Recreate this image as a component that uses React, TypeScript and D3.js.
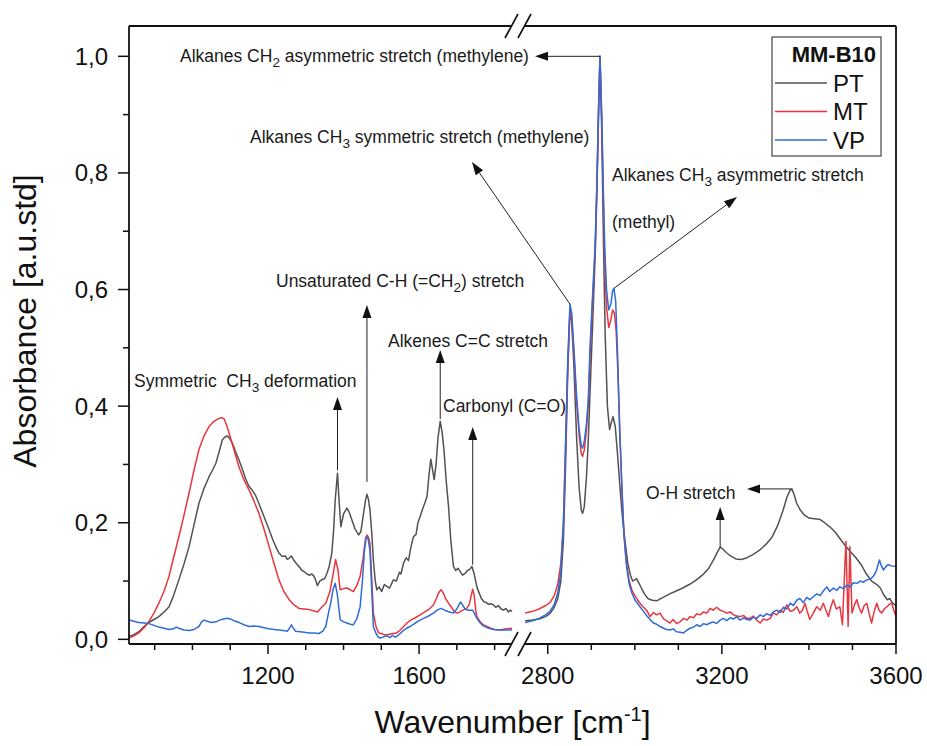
import React from "react";
import * as d3 from "d3";

type Pt = [number, number];

// ---- Spectra: [wavenumber (cm-1), absorbance] ----
const PT_LOW: Pt[] = [
  [832, 0.005], [845, 0.008], [858, 0.013], [872, 0.022], [885, 0.029], [898, 0.034], [911, 0.039],
  [925, 0.047], [938, 0.056], [950, 0.075], [964, 0.102], [978, 0.13], [991, 0.159], [1004, 0.196],
  [1017, 0.233], [1030, 0.258], [1044, 0.279], [1053, 0.29], [1062, 0.302], [1070, 0.32], [1079, 0.342],
  [1086, 0.347], [1092, 0.349], [1099, 0.344], [1106, 0.336], [1114, 0.322], [1123, 0.308], [1132, 0.292],
  [1141, 0.275], [1150, 0.262], [1158, 0.256], [1167, 0.247], [1176, 0.233], [1185, 0.218], [1194, 0.203],
  [1203, 0.188], [1212, 0.172], [1220, 0.16], [1229, 0.148], [1238, 0.142], [1246, 0.143], [1251, 0.137],
  [1256, 0.139], [1262, 0.143], [1268, 0.136], [1275, 0.13], [1282, 0.125], [1290, 0.118], [1296, 0.116],
  [1303, 0.112], [1309, 0.11], [1316, 0.112], [1322, 0.108], [1327, 0.1], [1331, 0.092], [1337, 0.1],
  [1344, 0.103], [1350, 0.104], [1356, 0.113], [1362, 0.125], [1369, 0.148], [1374, 0.19], [1378, 0.239],
  [1384, 0.285], [1388, 0.24], [1393, 0.193], [1400, 0.215], [1409, 0.225], [1415, 0.218], [1422, 0.205],
  [1430, 0.19], [1440, 0.179], [1446, 0.185], [1453, 0.216], [1458, 0.238], [1462, 0.249], [1466, 0.24],
  [1470, 0.222], [1475, 0.18], [1479, 0.136], [1484, 0.1], [1488, 0.085], [1494, 0.09], [1501, 0.082],
  [1508, 0.094], [1515, 0.091], [1522, 0.088], [1532, 0.102], [1540, 0.1], [1548, 0.115], [1552, 0.112],
  [1559, 0.131], [1566, 0.14], [1572, 0.135], [1578, 0.157], [1585, 0.176], [1592, 0.18], [1597, 0.2],
  [1603, 0.211], [1610, 0.225], [1616, 0.235], [1621, 0.245], [1626, 0.28], [1631, 0.309], [1636, 0.29],
  [1640, 0.274], [1645, 0.3], [1650, 0.345], [1656, 0.374], [1661, 0.355], [1666, 0.325], [1672, 0.27],
  [1678, 0.228], [1684, 0.17], [1691, 0.125], [1697, 0.118], [1703, 0.122], [1709, 0.116], [1715, 0.11],
  [1722, 0.113], [1728, 0.118], [1734, 0.12], [1740, 0.125], [1746, 0.112], [1753, 0.09], [1760, 0.078],
  [1765, 0.07], [1771, 0.065], [1778, 0.063], [1784, 0.06], [1790, 0.061], [1797, 0.059], [1803, 0.055],
  [1810, 0.058], [1817, 0.052], [1824, 0.05], [1830, 0.053], [1836, 0.047], [1842, 0.05], [1846, 0.048],
];

const PT_HIGH: Pt[] = [
  [2748, 0.032], [2765, 0.033], [2780, 0.035], [2795, 0.039], [2805, 0.044], [2815, 0.055], [2823, 0.07],
  [2830, 0.1], [2836, 0.17], [2841, 0.3], [2846, 0.46], [2851, 0.563], [2855, 0.545], [2860, 0.47],
  [2866, 0.35], [2872, 0.26], [2877, 0.222], [2880, 0.216], [2884, 0.228], [2889, 0.28], [2893, 0.34],
  [2897, 0.42], [2901, 0.5], [2905, 0.58], [2909, 0.66], [2913, 0.77], [2917, 0.91], [2920, 1.0],
  [2924, 0.87], [2928, 0.68], [2932, 0.52], [2937, 0.4], [2942, 0.36], [2946, 0.372], [2950, 0.382],
  [2955, 0.365], [2960, 0.32], [2966, 0.26], [2972, 0.205], [2978, 0.165], [2984, 0.13], [2990, 0.11],
  [2995, 0.1], [3000, 0.102], [3004, 0.104], [3009, 0.097], [3015, 0.088], [3022, 0.078], [3030, 0.07],
  [3040, 0.067], [3050, 0.066], [3065, 0.072], [3080, 0.078], [3095, 0.083], [3110, 0.088], [3125, 0.094],
  [3140, 0.101], [3155, 0.11], [3170, 0.122], [3182, 0.138], [3190, 0.15], [3196, 0.158], [3202, 0.155],
  [3210, 0.149], [3220, 0.143], [3232, 0.138], [3245, 0.137], [3258, 0.14], [3270, 0.145], [3285, 0.152],
  [3300, 0.162], [3315, 0.175], [3328, 0.195], [3340, 0.22], [3350, 0.245], [3357, 0.256], [3361, 0.258],
  [3366, 0.248], [3372, 0.233], [3380, 0.222], [3390, 0.213], [3400, 0.208], [3412, 0.207], [3424, 0.206],
  [3436, 0.2], [3448, 0.193], [3460, 0.184], [3472, 0.172], [3484, 0.16], [3496, 0.15], [3508, 0.14],
  [3520, 0.128], [3532, 0.112], [3544, 0.1], [3556, 0.094], [3564, 0.088], [3572, 0.076], [3580, 0.068],
  [3586, 0.07], [3592, 0.062], [3600, 0.058],
];

const MT_LOW: Pt[] = [
  [832, 0.002], [845, 0.006], [858, 0.011], [872, 0.02], [885, 0.031], [898, 0.045], [911, 0.062],
  [925, 0.083], [938, 0.108], [950, 0.14], [964, 0.176], [978, 0.214], [991, 0.251], [1004, 0.29],
  [1017, 0.325], [1030, 0.348], [1044, 0.365], [1057, 0.374], [1070, 0.379], [1078, 0.38], [1084, 0.378],
  [1090, 0.368], [1097, 0.354], [1110, 0.325], [1123, 0.296], [1136, 0.274], [1150, 0.256], [1163, 0.237],
  [1176, 0.216], [1190, 0.188], [1203, 0.159], [1216, 0.13], [1229, 0.102], [1242, 0.082], [1256, 0.068],
  [1269, 0.059], [1282, 0.053], [1295, 0.052], [1309, 0.051], [1320, 0.049], [1331, 0.047], [1342, 0.055],
  [1353, 0.062], [1364, 0.082], [1372, 0.11], [1379, 0.137], [1385, 0.12], [1391, 0.085], [1400, 0.087],
  [1409, 0.088], [1418, 0.085], [1426, 0.082], [1435, 0.092], [1444, 0.108], [1452, 0.14], [1458, 0.172],
  [1462, 0.179], [1466, 0.175], [1470, 0.165], [1475, 0.1], [1479, 0.045], [1486, 0.022], [1493, 0.011],
  [1500, 0.01], [1508, 0.008], [1515, 0.008], [1524, 0.009], [1532, 0.01], [1541, 0.011], [1550, 0.016],
  [1559, 0.022], [1568, 0.028], [1578, 0.033], [1590, 0.037], [1603, 0.042], [1615, 0.047], [1627, 0.052],
  [1638, 0.059], [1646, 0.07], [1652, 0.08], [1658, 0.085], [1664, 0.08], [1670, 0.07], [1678, 0.062],
  [1686, 0.055], [1693, 0.048], [1700, 0.045], [1708, 0.047], [1716, 0.05], [1726, 0.053], [1733, 0.06],
  [1738, 0.075], [1742, 0.086], [1746, 0.075], [1750, 0.05], [1753, 0.039], [1760, 0.032], [1766, 0.027],
  [1773, 0.024], [1780, 0.022], [1790, 0.019], [1800, 0.017], [1815, 0.016], [1830, 0.018], [1846, 0.019],
];

const MT_HIGH: Pt[] = [
  [2748, 0.045], [2765, 0.048], [2780, 0.052], [2795, 0.058], [2805, 0.063], [2815, 0.075], [2823, 0.095],
  [2830, 0.13], [2836, 0.2], [2841, 0.33], [2846, 0.47], [2851, 0.565], [2855, 0.55], [2860, 0.49],
  [2866, 0.41], [2872, 0.35], [2877, 0.318], [2880, 0.314], [2884, 0.325], [2889, 0.36], [2893, 0.4],
  [2897, 0.48], [2901, 0.55], [2905, 0.61], [2909, 0.67], [2913, 0.78], [2917, 0.92], [2920, 1.0],
  [2924, 0.89], [2928, 0.74], [2931, 0.64], [2935, 0.57], [2940, 0.535], [2945, 0.548], [2949, 0.565],
  [2953, 0.56], [2957, 0.53], [2961, 0.46], [2966, 0.35], [2970, 0.26], [2975, 0.18], [2981, 0.13],
  [2987, 0.1], [2993, 0.085], [3000, 0.075], [3006, 0.068], [3012, 0.062], [3020, 0.055], [3027, 0.05],
  [3035, 0.039], [3043, 0.046], [3050, 0.042], [3058, 0.045], [3066, 0.035], [3073, 0.032], [3081, 0.028],
  [3088, 0.034], [3096, 0.027], [3104, 0.03], [3112, 0.036], [3120, 0.033], [3127, 0.039], [3135, 0.037],
  [3142, 0.044], [3150, 0.042], [3158, 0.047], [3165, 0.045], [3173, 0.053], [3180, 0.05], [3188, 0.055],
  [3196, 0.05], [3204, 0.048], [3211, 0.045], [3219, 0.047], [3227, 0.042], [3234, 0.04], [3242, 0.039],
  [3250, 0.041], [3257, 0.036], [3265, 0.036], [3272, 0.04], [3280, 0.033], [3288, 0.028], [3295, 0.035],
  [3303, 0.033], [3311, 0.036], [3318, 0.045], [3326, 0.042], [3334, 0.05], [3341, 0.046], [3349, 0.059],
  [3357, 0.048], [3364, 0.05], [3372, 0.056], [3379, 0.045], [3385, 0.05], [3391, 0.062], [3396, 0.048],
  [3402, 0.034], [3410, 0.045], [3418, 0.056], [3426, 0.05], [3433, 0.062], [3439, 0.05], [3445, 0.039],
  [3450, 0.055], [3456, 0.068], [3463, 0.052], [3471, 0.056], [3477, 0.025], [3481, 0.1], [3485, 0.168],
  [3488, 0.08], [3490, 0.022], [3492, 0.09], [3494, 0.159], [3497, 0.09], [3499, 0.045], [3505, 0.06],
  [3510, 0.068], [3515, 0.055], [3521, 0.045], [3527, 0.058], [3533, 0.062], [3538, 0.045], [3544, 0.028],
  [3550, 0.048], [3556, 0.062], [3561, 0.05], [3567, 0.045], [3573, 0.052], [3579, 0.056], [3585, 0.06],
  [3590, 0.062], [3595, 0.05], [3600, 0.039],
];

const VP_LOW: Pt[] = [
  [832, 0.033], [845, 0.031], [858, 0.029], [872, 0.028], [885, 0.027], [898, 0.024], [911, 0.021],
  [925, 0.019], [938, 0.017], [950, 0.018], [957, 0.021], [964, 0.019], [978, 0.016], [991, 0.015],
  [1004, 0.017], [1012, 0.02], [1017, 0.022], [1024, 0.03], [1031, 0.033], [1040, 0.031], [1050, 0.029],
  [1062, 0.03], [1072, 0.033], [1082, 0.035], [1092, 0.036], [1100, 0.035], [1110, 0.032], [1123, 0.029],
  [1136, 0.025], [1150, 0.022], [1163, 0.023], [1176, 0.022], [1190, 0.02], [1203, 0.018], [1216, 0.017],
  [1229, 0.016], [1240, 0.015], [1251, 0.014], [1256, 0.018], [1262, 0.025], [1267, 0.019], [1273, 0.014],
  [1285, 0.013], [1296, 0.012], [1309, 0.011], [1322, 0.011], [1335, 0.01], [1345, 0.014], [1353, 0.022],
  [1360, 0.045], [1366, 0.062], [1372, 0.085], [1378, 0.096], [1384, 0.075], [1391, 0.034], [1400, 0.03],
  [1409, 0.028], [1418, 0.026], [1426, 0.025], [1435, 0.035], [1444, 0.056], [1450, 0.1], [1455, 0.15],
  [1460, 0.176], [1465, 0.172], [1470, 0.153], [1475, 0.08], [1479, 0.022], [1486, 0.01], [1492, 0.004],
  [1497, 0.002], [1505, 0.004], [1512, 0.006], [1518, 0.005], [1523, 0.003], [1530, 0.007], [1536, 0.004],
  [1541, 0.005], [1550, 0.01], [1558, 0.015], [1567, 0.019], [1576, 0.022], [1590, 0.028], [1600, 0.032],
  [1612, 0.036], [1625, 0.04], [1638, 0.045], [1648, 0.05], [1658, 0.053], [1668, 0.05], [1680, 0.047],
  [1691, 0.045], [1700, 0.052], [1706, 0.06], [1710, 0.064], [1716, 0.058], [1722, 0.052], [1730, 0.05],
  [1742, 0.05], [1750, 0.04], [1756, 0.033], [1762, 0.028], [1770, 0.023], [1780, 0.02], [1797, 0.017],
  [1815, 0.016], [1830, 0.016], [1846, 0.016],
];

const VP_HIGH: Pt[] = [
  [2748, 0.029], [2765, 0.032], [2780, 0.036], [2795, 0.042], [2805, 0.048], [2815, 0.06], [2823, 0.08],
  [2830, 0.115], [2836, 0.2], [2841, 0.34], [2846, 0.48], [2851, 0.575], [2855, 0.56], [2860, 0.5],
  [2866, 0.42], [2872, 0.36], [2877, 0.332], [2880, 0.328], [2884, 0.34], [2889, 0.37], [2893, 0.41],
  [2897, 0.5], [2901, 0.56], [2905, 0.62], [2909, 0.68], [2913, 0.79], [2917, 0.92], [2920, 1.0],
  [2924, 0.9], [2928, 0.76], [2931, 0.67], [2935, 0.6], [2940, 0.565], [2945, 0.575], [2949, 0.598],
  [2952, 0.602], [2956, 0.58], [2960, 0.5], [2965, 0.36], [2970, 0.27], [2975, 0.18], [2981, 0.125],
  [2987, 0.095], [2993, 0.08], [3000, 0.068], [3006, 0.062], [3012, 0.056], [3020, 0.048], [3028, 0.04],
  [3036, 0.033], [3043, 0.028], [3050, 0.026], [3058, 0.022], [3066, 0.019], [3073, 0.017], [3081, 0.016],
  [3088, 0.018], [3096, 0.013], [3104, 0.012], [3112, 0.011], [3120, 0.016], [3127, 0.019], [3135, 0.021],
  [3142, 0.025], [3150, 0.022], [3158, 0.027], [3165, 0.025], [3173, 0.028], [3180, 0.03], [3188, 0.027],
  [3196, 0.033], [3203, 0.036], [3211, 0.032], [3219, 0.037], [3227, 0.035], [3234, 0.039], [3242, 0.033],
  [3250, 0.037], [3257, 0.034], [3265, 0.033], [3272, 0.038], [3280, 0.036], [3288, 0.042], [3295, 0.039],
  [3303, 0.044], [3311, 0.041], [3318, 0.047], [3326, 0.05], [3334, 0.046], [3341, 0.055], [3349, 0.052],
  [3357, 0.062], [3364, 0.058], [3372, 0.067], [3379, 0.07], [3387, 0.063], [3395, 0.072], [3402, 0.068],
  [3410, 0.073], [3418, 0.078], [3426, 0.075], [3433, 0.083], [3441, 0.09], [3448, 0.082], [3456, 0.088],
  [3464, 0.084], [3471, 0.09], [3479, 0.087], [3487, 0.093], [3495, 0.09], [3502, 0.097], [3510, 0.096],
  [3518, 0.1], [3525, 0.098], [3533, 0.102], [3540, 0.103], [3548, 0.108], [3555, 0.118], [3562, 0.136],
  [3567, 0.125], [3571, 0.119], [3577, 0.125], [3582, 0.128], [3590, 0.126], [3600, 0.125],
];

const SERIES_NAMES = ["PT", "MT", "VP"];
const SERIES_COLORS = ["#525252", "#e8363e", "#2f6cd9"];
const SERIES_DATA: Pt[][][] = [
  [PT_LOW, PT_HIGH],
  [MT_LOW, MT_HIGH],
  [VP_LOW, VP_HIGH],
];
const LEGEND_TITLE = "MM-B10";

// ---- Axis ticks ----
const Y_MAJOR = [0, 0.2, 0.4, 0.6, 0.8, 1.0];
const Y_MINOR = [0.1, 0.3, 0.5, 0.7, 0.9];
const X_LOW_MAJOR = [1200, 1600];
const X_LOW_MINOR = [900, 1000, 1100, 1300, 1400, 1500, 1700, 1800];
const X_HIGH_MAJOR = [2800, 3200, 3600];
const X_HIGH_MINOR = [2900, 3000, 3100, 3300, 3400, 3500];
const LOW_DOMAIN: [number, number] = [832, 1850];
const HIGH_DOMAIN: [number, number] = [2750, 3600];
const Y_DOMAIN: [number, number] = [-0.008, 1.052];

// ---- Layout ----
const W = 927;
const H = 746;
const F = { left: 129, right: 896, top: 26, bottom: 644 };
const LOW_END = 513.5;
const HIGH_START = 526;
const BREAK_MARKS = [511.5, 524.5];
const FONT = "'Liberation Sans', Arial, Helvetica, sans-serif";
const NOTE_SIZE = 17.5;

const xLow = d3.scaleLinear().domain(LOW_DOMAIN).range([F.left, LOW_END]);
const xHigh = d3.scaleLinear().domain(HIGH_DOMAIN).range([HIGH_START, F.right]);
const y = d3.scaleLinear().domain(Y_DOMAIN).range([F.bottom, F.top]);
const xPos = (w: number) => (w < 2300 ? xLow(w) : xHigh(w));

const line = d3
  .line<Pt>()
  .x((d) => xPos(d[0]))
  .y((d) => y(d[1]));

const fmtY = (v: number) => d3.format(".1f")(v).replace(".", ",");

type Part = { t: string; sub?: boolean };
type Note = {
  lines: { parts: Part[]; x: number; y: number }[];
  arrows: { from: Pt; tip: [number | null, number | null] }[];
};

// Band annotations: arrows start at the spectral feature (data space) and end at a label.
const NOTES: Note[] = [
  {
    lines: [{ parts: [{ t: "Alkanes CH" }, { t: "2", sub: true }, { t: " asymmetric stretch (methylene)" }], x: 180, y: 62 }],
    arrows: [{ from: [2920, 1.0], tip: [535, null] }],
  },
  {
    lines: [{ parts: [{ t: "Alkanes CH" }, { t: "3", sub: true }, { t: " symmetric stretch (methylene)" }], x: 250, y: 143 }],
    arrows: [{ from: [2851, 0.575], tip: [472, 162] }],
  },
  {
    lines: [
      { parts: [{ t: "Alkanes CH" }, { t: "3", sub: true }, { t: " asymmetric stretch" }], x: 612, y: 181 },
      { parts: [{ t: "(methyl)" }], x: 612, y: 228 },
    ],
    arrows: [{ from: [2952, 0.602], tip: [737, 197] }],
  },
  {
    lines: [{ parts: [{ t: "Unsaturated C-H (=CH" }, { t: "2", sub: true }, { t: ") stretch" }], x: 276, y: 287 }],
    arrows: [{ from: [1462, 0.27], tip: [null, 305] }],
  },
  {
    lines: [{ parts: [{ t: "Symmetric  CH" }, { t: "3", sub: true }, { t: " deformation" }], x: 134, y: 387 }],
    arrows: [{ from: [1384, 0.29], tip: [null, 397] }],
  },
  {
    lines: [{ parts: [{ t: "Alkenes C=C stretch" }], x: 388, y: 347 }],
    arrows: [{ from: [1656, 0.378], tip: [null, 350] }],
  },
  {
    lines: [{ parts: [{ t: "Carbonyl (C=O)" }], x: 443, y: 412 }],
    arrows: [{ from: [1742, 0.128], tip: [null, 427] }],
  },
  {
    lines: [{ parts: [{ t: "O-H stretch" }], x: 646, y: 499 }],
    arrows: [
      { from: [3360, 0.258], tip: [747, null] },
      { from: [3196, 0.158], tip: [null, 507] },
    ],
  },
];

function Arrow({ x1, y1, x2, y2 }: { x1: number; y1: number; x2: number; y2: number }) {
  const len = 13;
  const half = 4.5;
  const a = Math.atan2(y2 - y1, x2 - x1);
  const bx = x2 - len * Math.cos(a);
  const by = y2 - len * Math.sin(a);
  const px = -Math.sin(a) * half;
  const py = Math.cos(a) * half;
  return (
    <g>
      <line x1={x1} y1={y1} x2={bx} y2={by} stroke="#222" strokeWidth={1} />
      <path d={`M${x2},${y2}L${bx + px},${by + py}L${bx - px},${by - py}Z`} fill="#111" />
    </g>
  );
}

function RichText({ parts, x, y: yy, size }: { parts: Part[]; x: number; y: number; size: number }) {
  let shifted = false;
  return (
    <text x={x} y={yy} fontSize={size} fill="#1a1a1a" style={{ whiteSpace: "pre" }}>
      {parts.map((p, i) => {
        let dy = 0;
        if (p.sub && !shifted) {
          dy = 5;
          shifted = true;
        } else if (!p.sub && shifted) {
          dy = -5;
          shifted = false;
        }
        return (
          <tspan key={i} dy={dy || undefined} fontSize={p.sub ? size * 0.78 : undefined}>
            {p.t}
          </tspan>
        );
      })}
    </text>
  );
}

function BreakMark({ cx, cy }: { cx: number; cy: number }) {
  return <line x1={cx - 6.5} y1={cy + 12} x2={cx + 6.5} y2={cy - 12} stroke="#111" strokeWidth={1.6} />;
}

export default function App() {
  const axisStroke = "#111";
  const aw = 1.8;
  return (
    <svg
      width={W}
      height={H}
      viewBox={`0 0 ${W} ${H}`}
      style={{ position: "absolute", left: 0, top: 0, background: "#fff", fontFamily: FONT }}
    >
      <rect x={0} y={0} width={W} height={H} fill="#fff" />

      {/* spectra */}
      <g fill="none" strokeWidth={1.5} strokeLinejoin="round">
        {SERIES_DATA.map((segs, si) =>
          segs.map((seg, k) => <path key={`${si}-${k}`} d={line(seg) || ""} stroke={SERIES_COLORS[si]} />)
        )}
      </g>

      {/* frame with axis break */}
      <g stroke={axisStroke} strokeWidth={aw} fill="none">
        <line x1={F.left} y1={F.top} x2={F.left} y2={F.bottom} />
        <line x1={F.right} y1={F.top} x2={F.right} y2={F.bottom} />
        <line x1={F.left} y1={F.bottom} x2={BREAK_MARKS[0]} y2={F.bottom} />
        <line x1={BREAK_MARKS[1]} y1={F.bottom} x2={F.right} y2={F.bottom} />
        <line x1={F.left} y1={F.top} x2={BREAK_MARKS[0]} y2={F.top} />
        <line x1={BREAK_MARKS[1]} y1={F.top} x2={F.right} y2={F.top} />
      </g>
      {BREAK_MARKS.map((cx) => (
        <g key={cx}>
          <BreakMark cx={cx} cy={F.bottom} />
          <BreakMark cx={cx} cy={F.top} />
        </g>
      ))}

      {/* y axis */}
      <g stroke={axisStroke} strokeWidth={1.5}>
        {Y_MAJOR.map((v) => (
          <line key={v} x1={F.left - 11} x2={F.left} y1={y(v)} y2={y(v)} />
        ))}
        {Y_MINOR.map((v) => (
          <line key={v} x1={F.left - 6} x2={F.left} y1={y(v)} y2={y(v)} />
        ))}
      </g>
      <g fontSize={24} fill="#111" textAnchor="end">
        {Y_MAJOR.map((v) => (
          <text key={v} x={108} y={y(v) + 8.5}>
            {fmtY(v)}
          </text>
        ))}
      </g>

      {/* x axis */}
      <g stroke={axisStroke} strokeWidth={1.5}>
        {X_LOW_MAJOR.map((v) => (
          <line key={v} x1={xLow(v)} x2={xLow(v)} y1={F.bottom} y2={F.bottom + 10} />
        ))}
        {X_LOW_MINOR.map((v) => (
          <line key={v} x1={xLow(v)} x2={xLow(v)} y1={F.bottom} y2={F.bottom + 6} />
        ))}
        {X_HIGH_MAJOR.map((v) => (
          <line key={v} x1={xHigh(v)} x2={xHigh(v)} y1={F.bottom} y2={F.bottom + 10} />
        ))}
        {X_HIGH_MINOR.map((v) => (
          <line key={v} x1={xHigh(v)} x2={xHigh(v)} y1={F.bottom} y2={F.bottom + 6} />
        ))}
      </g>
      <g fontSize={24} fill="#111" textAnchor="middle">
        {X_LOW_MAJOR.map((v) => (
          <text key={v} x={xLow(v)} y={684}>
            {v}
          </text>
        ))}
        {X_HIGH_MAJOR.map((v) => (
          <text key={v} x={xHigh(v)} y={684}>
            {v}
          </text>
        ))}
      </g>

      {/* axis titles */}
      <text x={(F.left + F.right) / 2} y={733} fontSize={32} textAnchor="middle" fill="#111">
        Wavenumber [cm
        <tspan dy={-12} fontSize={20}>
          -1
        </tspan>
        <tspan dy={12}>]</tspan>
      </text>
      <text transform={`translate(36,321) rotate(-90)`} fontSize={32} textAnchor="middle" fill="#111">
        Absorbance [a.u.std]
      </text>

      {/* annotations */}
      {NOTES.map((n, i) => (
        <g key={i}>
          {n.lines.map((l, j) => (
            <RichText key={j} parts={l.parts} x={l.x} y={l.y} size={NOTE_SIZE} />
          ))}
          {n.arrows.map((a, j) => {
            const x1 = xPos(a.from[0]);
            const y1 = y(a.from[1]);
            const x2 = a.tip[0] === null ? x1 : a.tip[0];
            const y2 = a.tip[1] === null ? y1 : a.tip[1];
            return <Arrow key={j} x1={x1} y1={y1} x2={x2} y2={y2} />;
          })}
        </g>
      ))}

      {/* legend */}
      <g>
        <rect x={772} y={37} width={109} height={119} fill="#fff" stroke="#444" strokeWidth={1.2} />
        <text x={876} y={62} fontSize={22} fontWeight="bold" textAnchor="end" fill="#111">
          {LEGEND_TITLE}
        </text>
        {SERIES_NAMES.map((name, i) => {
          const cy = 83 + i * 28.5;
          return (
            <g key={name}>
              <line x1={775} x2={827} y1={cy} y2={cy} stroke={SERIES_COLORS[i]} strokeWidth={1.5} />
              <text x={833} y={cy + 8.5} fontSize={24} fill="#111">
                {name}
              </text>
            </g>
          );
        })}
      </g>
    </svg>
  );
}
